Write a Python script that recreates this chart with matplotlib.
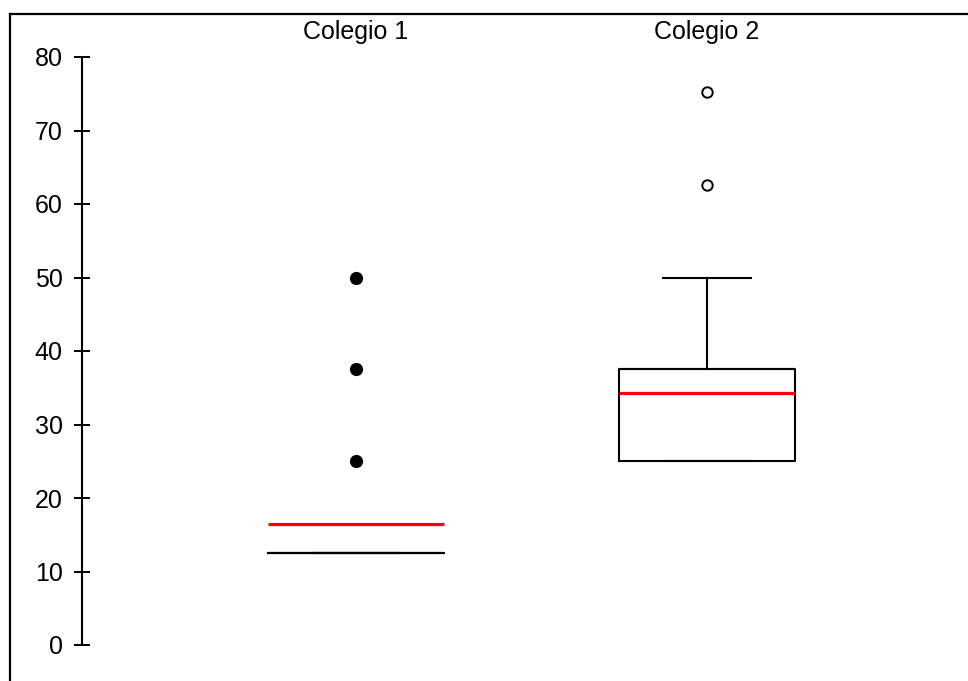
import matplotlib
matplotlib.use('Agg')
import matplotlib.pyplot as plt
from matplotlib.lines import Line2D

# values
schools = ['Colegio 1', 'Colegio 2']
q1 = [12.5, 25.0]
q3 = [12.5, 37.5]
medians = [12.5, 37.5]
means = [16.4, 34.3]
whis_lo = [12.5, 25.0]
whis_hi = [12.5, 50.0]
outliers = [[25.0, 37.5, 50.0], [62.6, 75.3]]
y_ticks = [0, 10, 20, 30, 40, 50, 60, 70, 80]

plt.rcParams['font.family'] = ['Liberation Sans', 'DejaVu Sans']

fig = plt.figure(figsize=(9.68, 6.81), dpi=100)
ax = fig.add_axes([82 / 968, 36 / 681, 886 / 968, 588 / 681])

box_style = dict(color='black', linewidth=1.5)
mean_style = dict(color='red', linewidth=2.3, linestyle='-')
flier_styles = [
    dict(marker='o', markerfacecolor='black', markeredgecolor='black', markersize=8.5),
    dict(marker='o', markerfacecolor='white', markeredgecolor='black',
         markersize=7.5, markeredgewidth=1.4),
]

for i, name in enumerate(schools):
    stats = [dict(label=name, q1=q1[i], q3=q3[i], med=medians[i], mean=means[i],
                  whislo=whis_lo[i], whishi=whis_hi[i], fliers=outliers[i])]
    ax.bxp(stats, positions=[i + 1], widths=0.504, showmeans=True, meanline=True,
           boxprops=box_style, whiskerprops=box_style, capprops=box_style,
           medianprops=box_style, meanprops=mean_style,
           flierprops=flier_styles[i], manage_ticks=False)

ax.set_xlim(1 - 274 / 351, 1 + 612 / 351)
ax.set_ylim(0, 80)

ax.set_yticks(y_ticks)
ax.tick_params(axis='y', direction='inout', length=11, width=1.4, labelsize=18, pad=8.5)

ax.xaxis.tick_top()
ax.set_xticks([1, 2])
ax.set_xticklabels(schools)
ax.tick_params(axis='x', length=0, labelsize=18, pad=9)

for side in ['top', 'right', 'bottom']:
    ax.spines[side].set_visible(False)
ax.spines['left'].set_linewidth(1.5)
ax.spines['left'].set_bounds(0, 80)

# outer frame (only left and top edges are inside the picture)
fig.add_artist(Line2D([10 / 968, 10 / 968], [0, 1 - 14 / 681], color='black', linewidth=1.6))
fig.add_artist(Line2D([10 / 968, 1], [1 - 14 / 681, 1 - 14 / 681], color='black', linewidth=1.6))

fig.savefig('out.png', dpi=100)
